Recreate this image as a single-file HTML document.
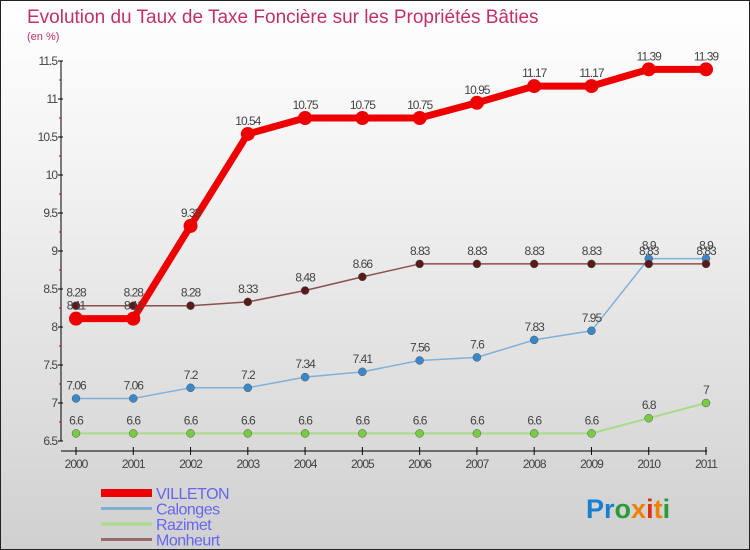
<!DOCTYPE html>
<html><head><meta charset="utf-8"><style>
body{margin:0;}
#c{width:748px;height:548px;border:1px solid #222;background:linear-gradient(#ffffff,#f3f3f3 30%,#d0d0d0);position:relative;font-family:"Liberation Sans",sans-serif;overflow:hidden}
svg{position:absolute;left:0;top:0}
</style></head><body>
<div id="c">
<svg id="s" width="750" height="550">
<text x="26" y="22" font-size="19" fill="#c0306a">Evolution du Taux de Taxe Foncière sur les Propriétés Bâties</text>
<text x="26" y="39" font-size="11" fill="#c0306a">(en %)</text>
<text x="585" y="517" font-size="27" font-weight="bold"><tspan fill="#1a7fd0">Pr</tspan><tspan fill="#2a9a3a">o</tspan><tspan fill="#f08000">x</tspan><tspan fill="#e03010">i</tspan><tspan fill="#f08000">t</tspan><tspan fill="#2a9a3a">i</tspan></text>
</svg>
</div>
<script>
const years=["2000","2001","2002","2003","2004","2005","2006","2007","2008","2009","2010","2011"];
const villeton=[8.11,8.11,9.33,10.54,10.75,10.75,10.75,10.95,11.17,11.17,11.39,11.39];
const calonges=[7.06,7.06,7.2,7.2,7.34,7.41,7.56,7.6,7.83,7.95,8.9,8.9];
const razimet=[6.6,6.6,6.6,6.6,6.6,6.6,6.6,6.6,6.6,6.6,6.8,7];
const monheurt=[8.28,8.28,8.28,8.33,8.48,8.66,8.83,8.83,8.83,8.83,8.83,8.83];
const yTicks=[6.5,7,7.5,8,8.5,9,9.5,10,10.5,11,11.5];
const seriesNames=["VILLETON","Calonges","Razimet","Monheurt"];
const NS="http://www.w3.org/2000/svg";
const s=document.getElementById('s');
const X=i=>75+i*(705-75)/(years.length-1);
const Y=v=>440-(v-6.5)*76;
function mk(t,a,p){const e=document.createElementNS(NS,t);for(const k in a)e.setAttribute(k,a[k]);(p||s).appendChild(e);return e;}
// y axis
let ax=mk('line',{x1:60,y1:60,x2:60,y2:440,stroke:'#000','stroke-width':1});


yTicks.forEach(v=>{
 mk('line',{x1:57,y1:Y(v),x2:62,y2:Y(v),stroke:'#000'});
 mk('line',{x1:58,y1:Y(v+0.25),x2:60,y2:Y(v+0.25),stroke:v<11.5?'#d00':'none'});
 const t=mk('text',{x:56,y:Y(v)+4,'font-size':12,'text-anchor':'end',fill:'#444','letter-spacing':'-1'});
 t.textContent=String(v);
 
 
});
let xa=mk('line',{x1:60,y1:450,x2:706,y2:450,stroke:'#000'});


years.forEach((y,i)=>{
 mk('line',{x1:X(i),y1:446,x2:X(i),y2:454,stroke:'#000'});
 const t=mk('text',{x:X(i),y:467,'font-size':12,'text-anchor':'middle',fill:'#444','letter-spacing':'-1'});
 t.textContent=y;
 
 
});
function series(data,name,lc,dc,lw,r){
 const g=mk('g',{});
 
 
 const pl=mk('polyline',{points:data.map((v,i)=>X(i)+','+Y(v)).join(' '),fill:'none',stroke:lc,'stroke-width':lw,'stroke-linejoin':'round'},g);
 
 
 data.forEach((v,i)=>{
  const c=mk('circle',{cx:X(i),cy:Y(v),r:r,fill:dc,stroke:r>5?'none':'#555','stroke-width':0.5},g);
  
  
  const t=mk('text',{x:X(i),y:Y(v)-9,'font-size':12,'text-anchor':'middle',fill:'#444','letter-spacing':'-1'},g);
  t.textContent=String(v);
  
  
 });
}
series(razimet,'razimet','#a8dc88','#77cc44',2,4);
series(calonges,'calonges','#80b0d8','#3a88cc',1.5,4);
series(monheurt,'monheurt','#8a5050','#5a1a1a',1.5,4);
series(villeton,'villeton','#ee0000','#ee0000',7,7);
const lc=[['#ee0000',8],['#80b0d8',3],['#a8dc88',3],['#9a6a6a',3]];
seriesNames.forEach((n,i)=>{
 const y=492+i*15.5;
 const l=mk('line',{x1:100,y1:y,x2:151,y2:y,stroke:lc[i][0],'stroke-width':lc[i][1]});
 
 
 const t=mk('text',{x:155,y:y+6,'font-size':16,fill:'#6666ee','letter-spacing':'-0.5'});
 t.textContent=n;
 
 
});
</script>
</body></html>
